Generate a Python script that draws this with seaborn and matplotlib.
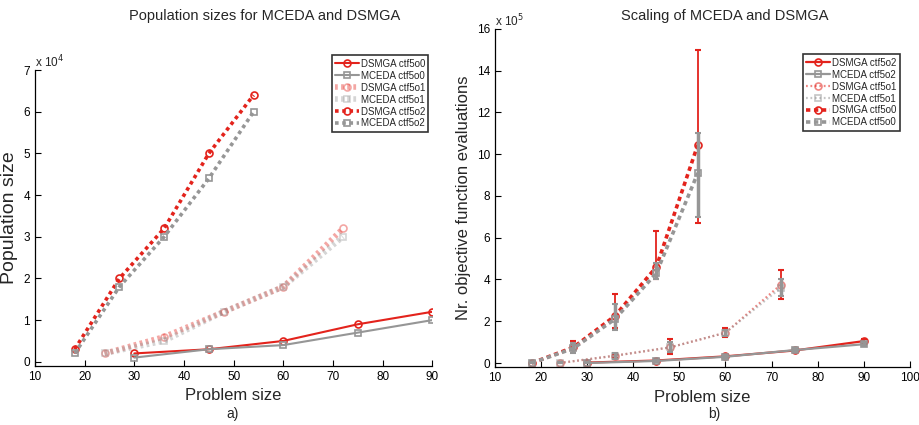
import matplotlib
matplotlib.use("Agg")
import matplotlib.pyplot as plt
import numpy as np
import seaborn as sns
from matplotlib.ticker import FuncFormatter

# left panel: population sizes
x_o0 = [30, 45, 60, 75, 90]
x_o1 = [24, 36, 48, 60, 72]
x_o2 = [18, 27, 36, 45, 54]
pop_dsmga_o0 = [2000, 3000, 5000, 9000, 12000]
pop_mceda_o0 = [1000, 3000, 4000, 7000, 10000]
pop_dsmga_o1 = [2000, 6000, 12000, 18000, 32000]
pop_mceda_o1 = [2000, 5000, 12000, 18000, 30000]
pop_dsmga_o2 = [3000, 20000, 32000, 50000, 64000]
pop_mceda_o2 = [2000, 18000, 30000, 44000, 60000]

# right panel: evaluations (mean, low, high)
ev_dsmga_a = [2000, 12000, 32000, 60000, 105000]
ev_dsmga_a_lo = [0, 8000, 25000, 55000, 95000]
ev_dsmga_a_hi = [5000, 18000, 40000, 70000, 115000]
ev_mceda_a = [0, 10000, 30000, 62000, 90000]
ev_mceda_a_lo = [0, 5000, 20000, 52000, 80000]
ev_mceda_a_hi = [5000, 15000, 40000, 72000, 100000]

ev_dsmga_b = [0, 35000, 75000, 145000, 375000]
ev_dsmga_b_lo = [0, 25000, 45000, 125000, 305000]
ev_dsmga_b_hi = [5000, 45000, 115000, 170000, 445000]
ev_mceda_b = [0, 35000, 75000, 145000, 360000]
ev_mceda_b_lo = [0, 20000, 55000, 130000, 320000]
ev_mceda_b_hi = [5000, 50000, 100000, 160000, 400000]

ev_dsmga_c = [0, 75000, 225000, 460000, 1045000]
ev_dsmga_c_lo = [0, 60000, 170000, 400000, 670000]
ev_dsmga_c_hi = [5000, 105000, 330000, 630000, 1500000]
ev_mceda_c = [0, 70000, 210000, 430000, 910000]
ev_mceda_c_lo = [0, 50000, 160000, 400000, 700000]
ev_mceda_c_hi = [5000, 95000, 285000, 480000, 1100000]

RED = "#e3231c"
GREY = "#969696"

sns.set_style("white")
plt.rcParams["font.family"] = ["Liberation Sans Narrow", "Liberation Sans", "DejaVu Sans"]

fig = plt.figure(figsize=(9.2, 4.25), dpi=100)
ax1 = fig.add_axes([0.038, 0.139, 0.432, 0.696])
ax2 = fig.add_axes([0.538, 0.136, 0.451, 0.796])

styles_left = {
    "o0": dict(linestyle="-", lw=1.5),
    "o1": dict(linestyle=(0, (0.5, 0.6)), lw=4.0, alpha=0.4),
    "o2": dict(linestyle=(0, (1.0, 1.0)), lw=2.6),
}
styles_right = {
    "o0": dict(linestyle="-", lw=1.6),
    "o1": dict(linestyle=(0, (0.8, 1.2)), lw=1.6, alpha=0.55),
    "o2": dict(linestyle=(0, (1.2, 1.0)), lw=2.6),
}

series_left = [
    ("DSMGA ctf5o0", x_o0, pop_dsmga_o0, RED, "o", "o0"),
    ("MCEDA ctf5o0", x_o0, pop_mceda_o0, GREY, "s", "o0"),
    ("DSMGA ctf5o1", x_o1, pop_dsmga_o1, RED, "o", "o1"),
    ("MCEDA ctf5o1", x_o1, pop_mceda_o1, GREY, "s", "o1"),
    ("DSMGA ctf5o2", x_o2, pop_dsmga_o2, RED, "o", "o2"),
    ("MCEDA ctf5o2", x_o2, pop_mceda_o2, GREY, "s", "o2"),
]
for label, xs, ys, col, mk, st in series_left:
    sns.lineplot(x=xs, y=ys, ax=ax1, color=col, label=label,
                 marker=mk, markersize=5 if mk == "o" else 4,
                 markerfacecolor="none", markeredgecolor=col,
                 markeredgewidth=1.2, **styles_left[st])

series_right = [
    ("DSMGA ctf5o2", x_o0, ev_dsmga_a, ev_dsmga_a_lo, ev_dsmga_a_hi, RED, "o", "o0"),
    ("MCEDA ctf5o2", x_o0, ev_mceda_a, ev_mceda_a_lo, ev_mceda_a_hi, GREY, "s", "o0"),
    ("DSMGA ctf5o1", x_o1, ev_dsmga_b, ev_dsmga_b_lo, ev_dsmga_b_hi, RED, "o", "o1"),
    ("MCEDA ctf5o1", x_o1, ev_mceda_b, ev_mceda_b_lo, ev_mceda_b_hi, GREY, "s", "o1"),
    ("DSMGA ctf5o0", x_o2, ev_dsmga_c, ev_dsmga_c_lo, ev_dsmga_c_hi, RED, "o", "o2"),
    ("MCEDA ctf5o0", x_o2, ev_mceda_c, ev_mceda_c_lo, ev_mceda_c_hi, GREY, "s", "o2"),
]
for label, xs, ys, lo, hi, col, mk, st in series_right:
    ys = np.array(ys)
    err = [ys - np.array(lo), np.array(hi) - ys]
    ax2.errorbar(xs, ys, yerr=err, fmt="none", ecolor=col,
                 elinewidth=1.3 if col == RED else 2.5, capsize=2, capthick=1.5)
    sns.lineplot(x=xs, y=ys, ax=ax2, color=col, label=label,
                 marker=mk, markersize=5 if mk == "o" else 4,
                 markerfacecolor="none", markeredgecolor=col,
                 markeredgewidth=1.2, **styles_right[st])

for ax in (ax1, ax2):
    for s in ("top", "right"):
        ax.spines[s].set_visible(False)
    for s in ("left", "bottom"):
        ax.spines[s].set_color("black")
        ax.spines[s].set_linewidth(0.9)
    ax.tick_params(direction="in", length=4, width=0.8, labelsize=8.5,
                   bottom=True, left=True, colors="black")
    ax.set_xlabel("Problem size", fontsize=12)
    leg = ax.legend(loc="upper right", fontsize=7, frameon=True, fancybox=False,
                    handlelength=2.4, borderpad=0.35, labelspacing=0.2,
                    handletextpad=0.2, borderaxespad=0)
    leg.get_frame().set_edgecolor("black")
    leg.get_frame().set_linewidth(1.2)

ax1.set_xlim(10, 90)
ax1.set_xticks(range(10, 91, 10))
ax1.set_ylim(-1000, 70000)
ax1.set_yticks(range(0, 70001, 10000))
ax1.yaxis.set_major_formatter(FuncFormatter(lambda v, p: f"{v / 1e4:g}"))
ax1.set_ylabel("Population size", fontsize=14, labelpad=4)
ax1.text(0.0, 1.0, r"x 10$^4$", transform=ax1.transAxes, fontsize=8.5,
         ha="left", va="bottom")
ax1.legend_.set_bbox_to_anchor((0.99, 1.05))

ax2.set_xlim(10, 100)
ax2.set_xticks(range(10, 101, 10))
ax2.set_ylim(-20000, 1600000)
ax2.set_yticks(range(0, 1600001, 200000))
ax2.yaxis.set_major_formatter(FuncFormatter(lambda v, p: f"{v / 1e5:g}"))
ax2.set_ylabel("Nr. objective function evaluations", fontsize=12, labelpad=4)
ax2.text(0.0, 1.0, r"x 10$^5$", transform=ax2.transAxes, fontsize=8.5,
         ha="left", va="bottom")
ax2.legend_.set_bbox_to_anchor((0.975, 0.925))

fig.text(0.288, 0.962, "Population sizes for MCEDA and DSMGA", ha="center",
         va="center", fontsize=10.5)
fig.text(0.788, 0.962, "Scaling of MCEDA and DSMGA", ha="center",
         va="center", fontsize=10.5)
fig.text(0.253, 0.025, "a)", ha="center", va="center", fontsize=10)
fig.text(0.776, 0.025, "b)", ha="center", va="center", fontsize=10)

fig.savefig("out.png", dpi=100)
